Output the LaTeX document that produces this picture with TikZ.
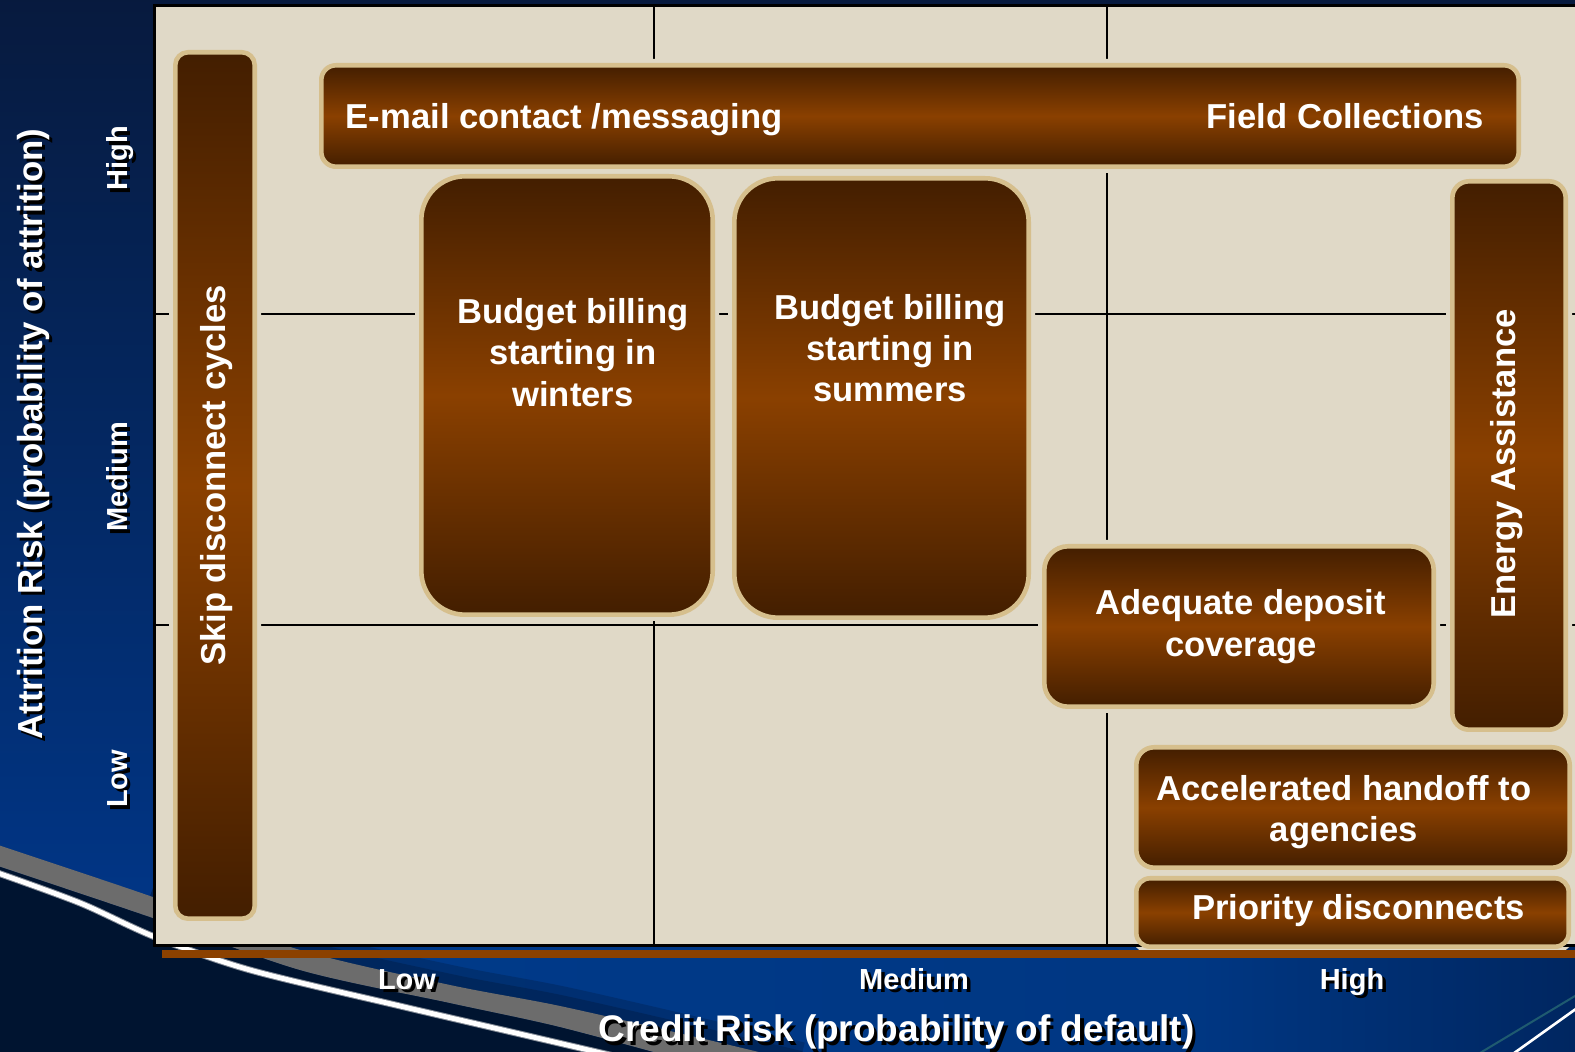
\documentclass[tikz,border=0pt]{standalone}
\usepackage{fontspec}
\setmainfont{Liberation Sans}
\pgfdeclarelayer{back}
\pgfdeclarelayer{halo}
\pgfsetlayers{back,halo,main}

\definecolor{bgTop}{HTML}{071A3E}
\definecolor{bgLow}{HTML}{00378A}
\definecolor{bandBlue}{HTML}{003B8B}
\definecolor{bandDark}{HTML}{002660}
\definecolor{darkNavy}{HTML}{001430}
\definecolor{swooshGray}{HTML}{6C6C6C}
\definecolor{plotBg}{HTML}{E0D9C7}
\definecolor{tanEdge}{HTML}{D6BF8D}
\definecolor{brDark}{HTML}{431E00}
\definecolor{brMid}{HTML}{8A4000}
\definecolor{barOrange}{HTML}{8B4100}
\definecolor{tealLine}{HTML}{1F5B70}

\tikzset{
  boxshape/.style={draw=tanEdge, line width=2.3pt, top color=brDark,
    bottom color=brDark, middle color=brMid, inner sep=0pt, outer sep=0pt},
  boxtext/.style={text=white, inner sep=0pt,
    font=\fontsize{17.3}{20.6}\selectfont\bfseries},
  axsmall/.style={text=white, inner sep=0pt,
    font=\fontsize{14.5}{17}\selectfont\bfseries},
  axtitleY/.style={text=white, inner sep=0pt,
    font=\fontsize{17.4}{20}\selectfont\bfseries},
  axtitleX/.style={text=white, inner sep=0pt,
    font=\fontsize{18.5}{21}\selectfont\bfseries},
  gridline/.style={black, line width=1pt},
}

% rounded box given by its outer edges (x1,y1,x2,y2) and corner radius, all in px;
% a plot-coloured halo behind it interrupts the grid lines
\newcommand\placebox[6]{%
  \pgfmathsetmacro\bxw{(#4-#2-4.6)*0.5}%
  \pgfmathsetmacro\bxh{(#5-#3-4.6)*0.5}%
  \pgfmathsetmacro\bxr{(#6-2.3)*0.5}%
  \pgfmathsetmacro\bhr{(#6+4)*0.5}%
  \pgfmathsetmacro\bxc{(#2+#4)/2}%
  \pgfmathsetmacro\byc{(#3+#5)/2}%
  \begin{pgfonlayer}{halo}
    \fill[plotBg, rounded corners=\bhr pt] (#2-4,#3-4) rectangle (#4+4,#5+4);
  \end{pgfonlayer}
  \node[boxshape, minimum width=\bxw pt, minimum height=\bxh pt,
        rounded corners=\bxr pt] (#1) at (\bxc,\byc) {};}

% white label with a black drop shadow
\newcommand\shlabel[5]{%
  \node[#2, text=black] (#1s) at (#3+3.5,#4+3.5) {#5};
  \node[#2] (#1) at (#3,#4) {#5};}

\begin{document}
\begin{tikzpicture}[x=0.5pt, y=-0.5pt]
\useasboundingbox (0,0) rectangle (1575,1052);

\begin{pgfonlayer}{back}
  % backdrop
  \shade[top color=bgTop, bottom color=bgLow] (-5,-5) rectangle (1580,960);
  \shade[left color=bandBlue, right color=bandBlue!80!bandDark] (150,946) rectangle (1200,1060);
  \shade[left color=bandBlue!80!bandDark, right color=bandDark] (1199,946) rectangle (1580,1060);
  % soft shade above the swoosh
  \draw[darkNavy, opacity=0.25, line width=20pt]
    plot[smooth] coordinates {(150,896) (300,950) (450,985) (560,1006) (700,1038) (800,1062)};
  \draw[darkNavy, opacity=0.3, line width=11pt]
    plot[smooth] coordinates {(150,896) (300,950) (450,985) (560,1006) (700,1038) (800,1062)};
  % dark lower-left corner
  \fill[darkNavy] plot[smooth] coordinates {(-5,865) (150,917) (300,970) (450,1003) (560,1027) (690,1062)}
    -- (690,1070) -- (-10,1070) -- cycle;
  % grey swoosh band
  \fill[swooshGray] plot[smooth] coordinates {(-5,844) (150,896) (300,950) (450,985) (560,1006) (700,1038) (800,1062)}
    -- (690,1062)
    -- plot[smooth] coordinates {(690,1062) (560,1027) (450,1003) (300,970) (150,917) (-5,865)} -- cycle;
  % white swoosh line
  \draw[white!70!gray, line width=3.4pt, opacity=0.6]
    plot[smooth] coordinates {(-5,872) (80,903) (155,937) (250,970) (400,1006) (520,1034) (640,1062)};
  \draw[white, line width=2.4pt]
    plot[smooth] coordinates {(-5,872) (80,903) (155,937) (250,970) (400,1006) (520,1034) (640,1062)};
  % bottom-right streaks
  \draw[tealLine, line width=1pt] (1475,1056) -- (1580,993);
  \draw[white, line width=1.3pt] (1510,1056) -- (1580,1006);

  % plot area and grid
  \fill[plotBg] (155,6) rectangle (1580,945.5);
  \draw[gridline] (654,6) -- (654,945.5);
  \draw[gridline] (1107,6) -- (1107,945.5);
  \draw[gridline] (155,314) -- (1580,314);
  \draw[gridline] (155,625) -- (1580,625);
\end{pgfonlayer}

% plot frame and orange base bar
\draw[black, line width=1.5pt] (1585,6) -- (154.7,6) -- (154.7,945.5) -- (1585,945.5);
\fill[barOrange] (162,950.5) rectangle (1580,958);

% strategy boxes
\placebox{skip}{173}{50}{257}{921}{15}
\placebox{email}{319}{63}{1521}{169}{17}
\placebox{winters}{419}{174}{715}{617}{46}
\placebox{summers}{732}{176}{1031}{620}{46}
\placebox{adequate}{1042}{544}{1436}{709}{26}
\placebox{energy}{1450}{179}{1568}{732}{19}
\placebox{accel}{1134}{745}{1572}{870}{20}
\placebox{priority}{1134}{876}{1571}{949}{16}

% box captions
\node[boxtext, rotate=90, anchor=base] (skipT) at (225,475.5) {Skip disconnect cycles};
\node[boxtext, anchor=base west] (emailT) at (345.5,128.3) {E-mail contact /messaging};
\node[boxtext, anchor=base east] (fieldT) at (1484,128.3) {Field Collections};
\node[boxtext, align=center] (wintersT) at (573,352.5) {Budget billing\\starting in\\winters};
\node[boxtext, align=center] (summersT) at (890,348.1) {Budget billing\\starting in\\summers};
\node[boxtext, align=center] (adequateT) at (1241,626.6) {Adequate deposit\\coverage};
\node[boxtext, rotate=90, anchor=base] (energyT) at (1515,464) {Energy Assistance};
\node[boxtext, align=center] (accelT) at (1344,812.2) {Accelerated handoff to\\agencies};
\node[boxtext, anchor=base] (priorityT) at (1358.5,920) {Priority disconnects};

% axis levels and titles
\shlabel{yHigh}{axsmall, rotate=90, anchor=base}{127}{158.5}{High}
\shlabel{yMed}{axsmall, rotate=90, anchor=base}{127}{477}{Medium}
\shlabel{yLow}{axsmall, rotate=90, anchor=base}{127}{779}{Low}
\shlabel{yTitle}{axtitleY, rotate=90, anchor=base}{42}{434}{Attrition Risk (probability of attrition)}
\shlabel{xLow}{axsmall, anchor=base}{407}{989}{Low}
\shlabel{xMed}{axsmall, anchor=base}{914}{989}{Medium}
\shlabel{xHigh}{axsmall, anchor=base}{1352}{989}{High}
\shlabel{xTitle}{axtitleX, anchor=base}{896.5}{1041.7}{Credit Risk (probability of default)}
\end{tikzpicture}
\end{document}
